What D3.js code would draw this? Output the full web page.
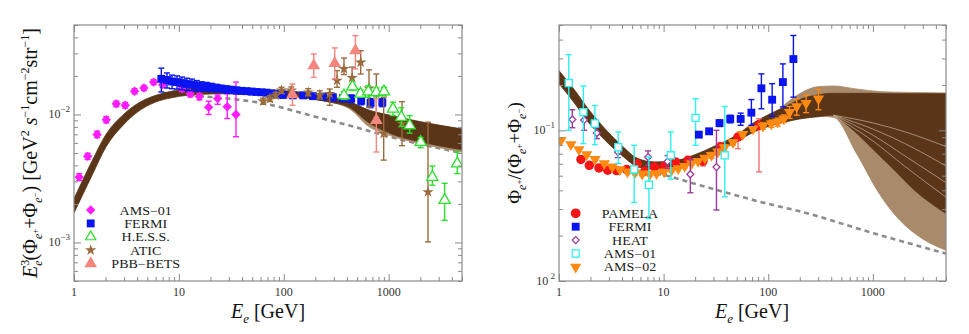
<!DOCTYPE html>
<html>
<head>
<meta charset="utf-8">
<script src="https://cdn.jsdelivr.net/npm/d3@7"></script>
<style>
  body { margin: 0; background: #fff; }
  svg { display: block; }
  text { white-space: pre; font-family: "Liberation Serif", "Times New Roman", "DejaVu Serif", serif; }
</style>
</head>
<body>
<svg id="chart" width="969" height="334" font-family="Liberation Serif, Times New Roman, serif"></svg>
<script>
// ---------- left panel: E^3 (e+ + e-) flux ----------
const lBandE  = [1, 1.5, 2, 3, 4, 6, 8.5, 12, 25, 70, 140, 270, 420, 650, 1000, 2450, 5000];
const lBandHi = [0.0022, 0.0044, 0.0069, 0.0101, 0.0121, 0.0141, 0.0152, 0.0159, 0.0160, 0.0156, 0.0150, 0.0138, 0.0126, 0.0108, 0.0099, 0.0085, 0.0077];
const lBandLo = [0.0017, 0.0034, 0.0055, 0.0084, 0.0104, 0.0125, 0.0135, 0.0141, 0.0145, 0.0142, 0.0136, 0.0125, 0.0114, 0.0086, 0.0072, 0.0059, 0.0053];
const lTanE  = [200, 420, 650, 1000, 2450, 5000];
const lTanHi = [0.0146, 0.0126, 0.0108, 0.0099, 0.0085, 0.0077];
const lTanLo = [0.0131, 0.0111, 0.0080, 0.0069, 0.0057, 0.0051];
const lDashE = [7, 10, 18, 38, 71, 100, 200, 400, 1275, 5000];
const lDashV = [0.0146, 0.0144, 0.0138, 0.0130, 0.0120, 0.0112, 0.0096, 0.0083, 0.0064, 0.0050];

const amsE  = [1.12, 1.35, 1.66, 2.03, 2.53, 3.08, 3.78, 4.64, 5.74, 7.0, 10.7, 12.8, 15.7, 19.2, 23.4, 28.9, 35.0];
const amsV  = [0.00324, 0.00471, 0.00698, 0.0091, 0.0121, 0.0118, 0.0152, 0.0161, 0.0179, 0.0171, 0.0159, 0.0145, 0.0138, 0.0114, 0.0133, 0.0115, 0.0100];
const amsLo = [0.00305, 0.00445, 0.0066, 0.0086, 0.0115, 0.0112, 0.0145, 0.0154, 0.0171, 0.0163, 0.0151, 0.0137, 0.0130, 0.0100, 0.0120, 0.0093, 0.0067];
const amsHi = [0.00345, 0.00497, 0.0074, 0.0096, 0.0127, 0.0124, 0.0159, 0.0168, 0.0187, 0.0179, 0.0167, 0.0153, 0.0146, 0.0127, 0.0142, 0.0145, 0.0179];

const fermiE = [6.8, 7.7, 8.6, 9.6, 10.7, 11.9, 13.3, 14.8, 16.5, 18.4, 20.5, 22.9, 25.5, 28.5, 31.8, 35.5, 39.6, 44.2, 49.3, 55.0, 61.4, 68.5, 76.4, 85.3, 98.5, 122, 153, 190, 237, 294, 366, 439, 547, 672, 870];
const fermiV = [0.0190, 0.0186, 0.0181, 0.0179, 0.0176, 0.0173, 0.0171, 0.0168, 0.0166, 0.0165, 0.0163, 0.0161, 0.0159, 0.0157, 0.0156, 0.0154, 0.0153, 0.0152, 0.0151, 0.0150, 0.0149, 0.0148, 0.0146, 0.0145, 0.0142, 0.0141, 0.0141, 0.0139, 0.0138, 0.0136, 0.0134, 0.0133, 0.0128, 0.0123, 0.0124];
const fermiErr = [0.0040, 0.0025, 0.0022, 0.0021, 0.0020, 0.0019, 0.0018, 0.0016, 0.0014, 0.0013, 0.0012, 0.0011, 0.0010, 0.0010, 0.0009, 0.0009, 0.0008, 0.0008, 0.0008, 0.0007, 0.0007, 0.0007, 0.0007, 0.0007, 0.0007, 0.0007, 0.0007, 0.0007, 0.0007, 0.0008, 0.0008, 0.0009, 0.0009, 0.0010, 0.0009];

const hessE  = [375, 451, 538, 640, 763, 902, 1099, 1321, 1585, 2018, 2608, 3415, 4510];
const hessV  = [0.01406, 0.0165, 0.0145, 0.0151, 0.0149, 0.0151, 0.01107, 0.00953, 0.0082, 0.00608, 0.00324, 0.00214, 0.00413];
const hessLo = [0.0131, 0.0154, 0.0136, 0.0136, 0.0138, 0.0140, 0.0098, 0.00806, 0.00715, 0.0055, 0.0028, 0.00149, 0.00345];
const hessHi = [0.0151, 0.0173, 0.0156, 0.0168, 0.0161, 0.0163, 0.01247, 0.0113, 0.0098, 0.0066, 0.00395, 0.0029, 0.0051];

const aticE  = [63.5, 73.6, 83.9, 95, 118, 171, 220, 274, 322, 375, 448, 541, 649, 762, 896, 1340, 2370];
const aticV  = [0.0127, 0.0133, 0.0141, 0.0154, 0.0154, 0.0149, 0.0142, 0.0145, 0.0184, 0.0227, 0.0193, 0.0255, 0.0160, 0.0145, 0.00707, 0.0085, 0.00248];
const aticLo = [0.0120, 0.0126, 0.0134, 0.0146, 0.0145, 0.0140, 0.0132, 0.0118, 0.0163, 0.0205, 0.0163, 0.0207, 0.0114, 0.0095, 0.0044, 0.0057, 0.00101];
const aticHi = [0.0134, 0.0140, 0.0149, 0.0163, 0.0164, 0.0159, 0.0153, 0.0158, 0.0220, 0.0276, 0.0234, 0.0315, 0.0223, 0.0207, 0.0136, 0.0126, 0.0087];

const betsE  = [121, 193, 306, 482, 763];
const betsV  = [0.0143, 0.0241, 0.0251, 0.0315, 0.00898];
const betsLo = [0.0118, 0.0195, 0.0190, 0.0227, 0.00509];
const betsHi = [0.0173, 0.0297, 0.0331, 0.0413, 0.0133];

// ---------- right panel: positron fraction ----------
const rBandE  = [1, 1.42, 1.9, 2.75, 3.96, 5.7, 8.2, 11.9, 20, 30, 50, 72, 100, 150, 200, 300, 400, 600, 1000, 1500, 2500, 5000];
const rBandHi = [0.249, 0.184, 0.139, 0.1026, 0.0795, 0.0649, 0.0617, 0.0623, 0.069, 0.078, 0.093, 0.112, 0.127, 0.145, 0.160, 0.172, 0.176, 0.176, 0.176, 0.175, 0.175, 0.175];
const rBandLo = [0.204, 0.150, 0.1135, 0.086, 0.0683, 0.0572, 0.0552, 0.0563, 0.0615, 0.071, 0.084, 0.097, 0.106, 0.114, 0.119, 0.123, 0.126, 0.105, 0.075, 0.057, 0.040, 0.028];
const rTanE  = [130, 200, 300, 420, 700, 1150, 1800, 3000, 5000];
const rTanHi = [0.140, 0.175, 0.195, 0.197, 0.188, 0.181, 0.179, 0.178, 0.177];
const rTanLo = [0.113, 0.120, 0.124, 0.122, 0.070, 0.038, 0.0254, 0.019, 0.016];
// a few light streaks across the dark fan of model curves
const rStreakE = [420, 1000, 2000, 5000];
const rStreaks = [
  [0.126, 0.112, 0.098, 0.078],
  [0.126, 0.102, 0.082, 0.058],
  [0.126, 0.093, 0.068, 0.045],
  [0.125, 0.085, 0.058, 0.036]
];
const rDashE = [7, 10, 22, 100, 200, 1000, 5000];
const rDashV = [0.053, 0.0505, 0.0433, 0.0325, 0.0290, 0.0208, 0.0152];

const pamE  = [1.62, 1.95, 2.41, 2.92, 3.55, 4.43, 5.6, 6.6, 8.2, 10.1, 13.0, 17.1, 23.8, 35, 51.4, 81.6];
const pamV  = [0.064, 0.0586, 0.0563, 0.0543, 0.054, 0.055, 0.060, 0.0535, 0.0572, 0.0577, 0.0617, 0.0633, 0.0623, 0.0776, 0.0903, 0.108];
const pamLo = [0.0625, 0.0572, 0.0550, 0.0530, 0.0527, 0.0536, 0.0585, 0.0520, 0.0555, 0.0558, 0.0595, 0.0605, 0.0580, 0.0720, 0.0756, 0.053];
const pamHi = [0.0655, 0.0600, 0.0576, 0.0556, 0.0553, 0.0564, 0.0615, 0.0550, 0.0589, 0.0596, 0.0640, 0.0661, 0.0670, 0.0830, 0.0927, 0.1195];

const rFermiE  = [21.7, 27.2, 34.2, 43.3, 54.5, 69, 86, 109, 138, 174];
const rFermiV  = [0.0936, 0.0985, 0.1117, 0.119, 0.119, 0.131, 0.19, 0.1596, 0.209, 0.297];
const rFermiLo = [0.090, 0.095, 0.106, 0.112, 0.108, 0.108, 0.139, 0.124, 0.143, 0.166];
const rFermiHi = [0.097, 0.102, 0.117, 0.126, 0.130, 0.160, 0.237, 0.204, 0.276, 0.426];

const heatE  = [1.34, 1.74, 2.3, 3.66, 7.1, 10.9, 18.0, 32.0];
const heatV  = [0.118, 0.117, 0.096, 0.0718, 0.0665, 0.062, 0.0511, 0.057];
const heatLo = [0.104, 0.100, 0.088, 0.0659, 0.0587, 0.056, 0.0385, 0.0296];
const heatHi = [0.137, 0.135, 0.105, 0.0776, 0.073, 0.068, 0.064, 0.100];

const ams1E  = [1.24, 1.71, 2.2, 3.68, 5.23, 7.23, 11.7, 20.2, 38.4];
const ams1V  = [0.206, 0.132, 0.111, 0.0772, 0.0550, 0.0435, 0.0683, 0.121, 0.0683];
const ams1Lo = [0.100, 0.0816, 0.0804, 0.0603, 0.0332, 0.026, 0.0474, 0.0795, 0.0362];
const ams1Hi = [0.318, 0.197, 0.146, 0.0975, 0.0795, 0.0666, 0.0975, 0.162, 0.144];

const ams2E = [1.045, 1.30, 1.55, 1.84, 2.21, 2.71, 3.23, 3.82, 4.52, 5.31, 6.24, 7.38, 8.55, 10.1, 11.9, 13.8, 15.9, 18.5, 21.3, 24.8, 28.6, 33, 38, 46, 57, 71.5, 89, 107, 123, 141, 160, 187, 230, 302];
const ams2V = [0.0858, 0.0804, 0.0745, 0.0690, 0.0643, 0.0602, 0.0572, 0.0549, 0.0530, 0.0522, 0.0514, 0.0512, 0.0517, 0.0530, 0.0543, 0.0557, 0.0577, 0.0602, 0.0623, 0.0656, 0.0683, 0.072, 0.077, 0.083, 0.094, 0.1026, 0.107, 0.1107, 0.1135, 0.1195, 0.132, 0.144, 0.151, 0.162];
const ams2Err = [0.0015, 0.0015, 0.0015, 0.0015, 0.0015, 0.0015, 0.0015, 0.0015, 0.0015, 0.0015, 0.0015, 0.0015, 0.0015, 0.0015, 0.0015, 0.0015, 0.0015, 0.0015, 0.0015, 0.0015, 0.003, 0.003, 0.003, 0.003, 0.003, 0.004, 0.005, 0.006, 0.007, 0.007, 0.012, 0.018, 0.020, 0.025];

// ticks and legends
const xMajor = [1, 10, 100, 1000];
const xLabels = ["1", "10", "100", "1000"];
const lYMajor = [0.001, 0.01];
const lYExp = ["−3", "−2"];
const rYMajor = [0.01, 0.1];
const rYExp = [" 2", "−1"];
const lLegend = ["AMS−01", "FERMI", "H.E.S.S.", "ATIC", "PBB−BETS"];
const rLegend = ["PAMELA", "FERMI", "HEAT", "AMS−01", "AMS−02"];

const DARK = "#5a3517", TAN = "#a98a6b";
const SERIF = "Liberation Serif, Times New Roman, serif";
const svg = d3.select("#chart");

// write text with sub/superscripts: [text, offset, size, italic, dx]
function rich(t, parts) {
  let cur = 0;
  t.attr("font-family", SERIF);
  parts.forEach(function (p) {
    const ts = t.append("tspan").text(p[0]).attr("font-size", p[2]).attr("dy", p[1] - cur);
    if (p[3]) ts.attr("font-style", "italic");
    if (p[4]) ts.attr("dx", p[4]);
    cur = p[1];
  });
}

function makePanel(left, right, yDomain, id) {
  const x = d3.scaleLog().domain([1, 5000]).range([left, right]);
  const y = d3.scaleLog().domain(yDomain).range([281, 25]);
  svg.append("clipPath").attr("id", id).append("rect")
    .attr("x", left).attr("y", 25).attr("width", right - left).attr("height", 256);
  const g = svg.append("g").attr("clip-path", "url(#" + id + ")");
  return { x: x, y: y, g: g, left: left, right: right };
}

function axes(p, yMajor, yExp) {
  const xMinor = p.x.ticks().filter(d => xMajor.indexOf(d) < 0);
  const yMinor = p.y.ticks().filter(d => yMajor.indexOf(d) < 0);
  const defs = [
    [d3.axisBottom(p.x), "translate(0,281)", xMajor, xMinor],
    [d3.axisTop(p.x), "translate(0,25)", xMajor, xMinor],
    [d3.axisLeft(p.y), "translate(" + p.left + ",0)", yMajor, yMinor],
    [d3.axisRight(p.y), "translate(" + p.right + ",0)", yMajor, yMinor]
  ];
  defs.forEach(function (d) {
    [[d[2], -7], [d[3], -4]].forEach(function (t) {
      const ax = d[0].tickValues(t[0]).tickSize(t[1]).tickFormat("");
      const ag = svg.append("g").attr("transform", d[1]).call(ax);
      ag.select(".domain").remove();
      ag.selectAll("line").attr("stroke", "#8a8a8a");
    });
  });
  svg.append("rect").attr("x", p.left).attr("y", 25)
    .attr("width", p.right - p.left).attr("height", 256)
    .attr("fill", "none").attr("stroke", "#8a8a8a").attr("stroke-width", 1.2);

  xMajor.forEach(function (v, i) {
    svg.append("text").attr("x", p.x(v)).attr("y", 296).attr("text-anchor", "middle")
      .attr("font-family", SERIF).attr("font-size", 12).attr("fill", "#333").text(xLabels[i]);
  });
  yMajor.forEach(function (v, i) {
    const t = svg.append("text").attr("x", p.left - 4).attr("y", p.y(v) + 4)
      .attr("text-anchor", "end").attr("fill", "#333");
    rich(t, [["10", 0, 12], [yExp[i], -6, 9]]);
  });
}

function band(p, E, lo, hi, color) {
  const area = d3.area()
    .x(i => p.x(E[i])).y0(i => p.y(lo[i])).y1(i => p.y(hi[i]))
    .curve(d3.curveMonotoneX);
  p.g.append("path").attr("d", area(d3.range(E.length))).attr("fill", color)
    .attr("stroke", color).attr("stroke-width", 0.8);
}

function curve(p, E, V, color, w, dash) {
  const line = d3.line().x(i => p.x(E[i])).y(i => p.y(V[i])).curve(d3.curveMonotoneX);
  const path = p.g.append("path").attr("d", line(d3.range(E.length))).attr("fill", "none")
    .attr("stroke", color).attr("stroke-width", w);
  if (dash) path.attr("stroke-dasharray", dash);
}

function errorBars(p, E, lo, hi, color, w) {
  const g = p.g.append("g").attr("stroke", color).attr("stroke-width", w || 1.4);
  E.forEach(function (e, i) {
    const xx = p.x(e);
    g.append("line").attr("x1", xx).attr("x2", xx).attr("y1", p.y(lo[i])).attr("y2", p.y(hi[i]));
    [lo[i], hi[i]].forEach(function (v) {
      g.append("line").attr("x1", xx - 3).attr("x2", xx + 3).attr("y1", p.y(v)).attr("y2", p.y(v));
    });
  });
}

function markers(p, E, V, type, size, fill, stroke, rot) {
  p.g.append("g").selectAll("path").data(E).join("path")
    .attr("d", d3.symbol().type(type).size(size))
    .attr("transform", (e, i) => "translate(" + p.x(e) + "," + p.y(V[i]) + ")" + (rot ? " rotate(" + rot + ")" : ""))
    .attr("fill", fill).attr("stroke", stroke || "none").attr("stroke-width", 1.3);
}

function legend(mx, tx, y0, dy, labels, syms) {
  labels.forEach(function (lab, i) {
    const s = syms[i], yy = y0 + i * dy;
    svg.append("path").attr("d", d3.symbol().type(s[0]).size(s[1]))
      .attr("transform", "translate(" + mx + "," + yy + ")" + (s[4] ? " rotate(" + s[4] + ")" : ""))
      .attr("fill", s[2]).attr("stroke", s[3] || "none").attr("stroke-width", 1.2);
    svg.append("text").attr("transform", "translate(" + tx + "," + (yy + 4.5) + ") scale(1.17,1)")
      .attr("text-anchor", "middle").attr("font-family", SERIF)
      .attr("font-size", 12).attr("fill", "#1a1a1a").text(lab);
  });
}

// ===== left panel =====
const L = makePanel(74, 462, [5e-4, 5e-2], "clipL");
curve(L, lDashE, lDashV, "#8c8c8c", 2.6, "5,4");
band(L, lTanE, lTanLo, lTanHi, TAN);
band(L, lBandE, lBandLo, lBandHi, DARK);

const cAms = "#ff1aff", cFermi = "#0a14f0", cHess = "#2be02b", cAtic = "#9a6b3e", cBets = "#f4867e";
errorBars(L, amsE, amsLo, amsHi, cAms);
markers(L, amsE, amsV, d3.symbolSquare, 44, cAms, null, 45);
errorBars(L, fermiE, fermiV.map((v, i) => v - fermiErr[i]), fermiV.map((v, i) => v + fermiErr[i]), cFermi);
markers(L, fermiE, fermiV, d3.symbolSquare, 62, cFermi);
errorBars(L, aticE, aticLo, aticHi, cAtic);
markers(L, aticE, aticV, d3.symbolStar, 40, cAtic);
errorBars(L, hessE, hessLo, hessHi, cHess);
markers(L, hessE, hessV, d3.symbolTriangle, 55, "#fff", cHess);
errorBars(L, betsE, betsLo, betsHi, cBets);
markers(L, betsE, betsV, d3.symbolTriangle, 70, cBets);
axes(L, lYMajor, lYExp);

legend(90.7, 145.7, 210, 13.4, lLegend, [
  [d3.symbolSquare, 44, cAms, null, 45], [d3.symbolSquare, 62, cFermi],
  [d3.symbolTriangle, 45, "#fff", cHess], [d3.symbolStar, 40, cAtic],
  [d3.symbolTriangle, 70, cBets]
]);

rich(svg.append("text").attr("transform", "translate(268,318)").attr("text-anchor", "middle").attr("fill", "#111"),
  [["E", 0, 20, true], ["e", 5, 13, true], [" [GeV]", 0, 20]]);
rich(svg.append("text").attr("transform", "translate(37,153) rotate(-90)").attr("text-anchor", "middle").attr("fill", "#111"),
  [["E", 0, 20, true], ["3", -8, 12], ["e", 5, 12, true, -6], ["(Φ", 0, 20], ["e", 5, 12, true], ["+", 1, 9],
   ["+Φ", 0, 20], ["e", 5, 12, true], ["−", 1, 9], [") [GeV", 0, 20], ["2", -8, 12], [" s", 0, 20, true],
   ["−1", -8, 12], ["cm", 0, 20], ["−2", -8, 12], ["str", 0, 20], ["−1", -8, 12], ["]", 0, 20]]);

// ===== right panel =====
const R = makePanel(559, 946, [0.01, 0.5], "clipR");
curve(R, rDashE, rDashV, "#8c8c8c", 2.6, "5,4");
band(R, rTanE, rTanLo, rTanHi, TAN);
band(R, rBandE, rBandLo, rBandHi, DARK);
rStreaks.forEach(s => curve(R, rStreakE, s, "#c8b29c", 0.7));

const cPam = "#f51515", cHeat = "#9c3a9c", cAms1 = "#2ef0f0", cAms2 = "#ff8a12";
errorBars(R, pamE, pamLo, pamHi, "#f27272");
markers(R, pamE, pamV, d3.symbolCircle, 70, cPam);
errorBars(R, ams2E, ams2V.map((v, i) => v - ams2Err[i]), ams2V.map((v, i) => v + ams2Err[i]), cAms2);
markers(R, ams2E, ams2V, d3.symbolTriangle, 55, cAms2, null, 180);
errorBars(R, heatE, heatLo, heatHi, cHeat);
markers(R, heatE, heatV, d3.symbolSquare, 24, "#fff", cHeat, 45);
errorBars(R, ams1E, ams1Lo, ams1Hi, cAms1);
markers(R, ams1E, ams1V, d3.symbolSquare, 50, "#fff", cAms1);
errorBars(R, rFermiE, rFermiLo, rFermiHi, cFermi);
markers(R, rFermiE, rFermiV, d3.symbolSquare, 62, cFermi);
axes(R, rYMajor, rYExp);

legend(575.7, 630, 213.3, 13.4, rLegend, [
  [d3.symbolCircle, 75, cPam], [d3.symbolSquare, 62, cFermi],
  [d3.symbolSquare, 24, "#fff", cHeat, 45], [d3.symbolSquare, 50, "#fff", cAms1],
  [d3.symbolTriangle, 55, cAms2, null, 180]
]);

rich(svg.append("text").attr("transform", "translate(752,318)").attr("text-anchor", "middle").attr("fill", "#111"),
  [["E", 0, 20, true], ["e", 5, 13, true], [" [GeV]", 0, 20]]);
rich(svg.append("text").attr("transform", "translate(521,153) rotate(-90)").attr("text-anchor", "middle").attr("fill", "#111"),
  [["Φ", 0, 19], ["e", 5, 12, true], ["+", 1, 9], ["/(Φ", 0, 19], ["e", 5, 12, true], ["+", 1, 9],
   ["+Φ", 0, 19], ["e", 5, 12, true], ["−", 1, 9], [")", 0, 19]]);
</script>
</body>
</html>
